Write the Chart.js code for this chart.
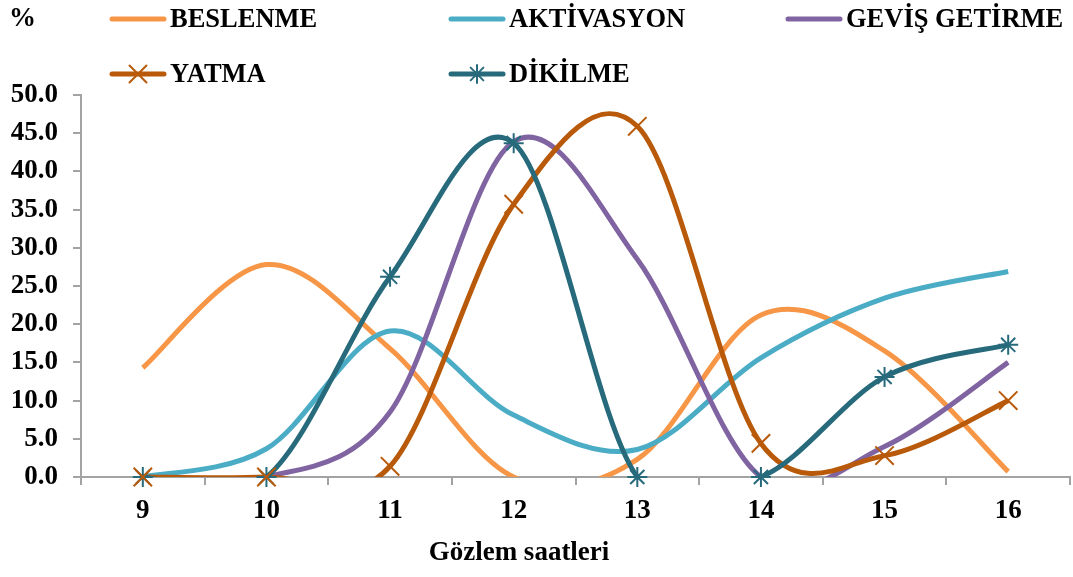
<!DOCTYPE html>
<html>
<head>
<meta charset="utf-8">
<script src="https://cdn.jsdelivr.net/npm/chart.js@4/dist/chart.umd.min.js"></script>
<style>
  html, body { margin: 0; padding: 0; background: #ffffff; }
  #c { display: block; }
</style>
</head>
<body>
<canvas id="c" width="1073" height="577"></canvas>
<script>
// Observation hours (x categories)
const hours = ['9', '10', '11', '12', '13', '14', '15', '16'];

// Share of animals (%) in each behaviour per hour
const beslenme     = [14.3, 27.8, 16.8, 0.0, 2.3, 21.2, 16.5, 0.7];
const aktivasyon   = [0.0, 3.7, 19.1, 8.1, 3.6, 15.6, 23.4, 26.9];
const gevisGetirme = [0.0, 0.0, 8.5, 43.9, 28.5, 0.0, 4.0, 15.0];
const yatma        = [0.0, 0.0, 1.4, 35.7, 45.9, 4.4, 2.8, 10.0];
const dikilme      = [0.0, 0.0, 26.2, 43.7, 0.0, 0.0, 13.1, 17.3];

const seriesNames  = ['BESLENME', 'AKTİVASYON', 'GEVİŞ GETİRME', 'YATMA', 'DİKİLME'];
const seriesData   = [beslenme, aktivasyon, gevisGetirme, yatma, dikilme];
const seriesColors = ['#F79646', '#4BACC6', '#8064A2', '#B85A0A', '#276A7C'];
const seriesMarker = [null, null, null, 'crossRot', 'star'];
const markerRadius = [0, 0, 0, 13, 10];

const yMin = 0, yMax = 50, yStep = 5;
const xTitle = 'Gözlem saatleri';
const yTitle = '%';

const FONT = '"Liberation Serif", "Times New Roman", serif';

// Lines: drawn first series at the bottom, last series on top
const datasets = [];
seriesNames.forEach((name, i) => {
  datasets.push({
    label: name,
    data: seriesData[i],
    borderColor: seriesColors[i],
    backgroundColor: seriesColors[i],
    borderWidth: 5,
    tension: 0.4,
    pointRadius: 0,
    pointHoverRadius: 0,
    fill: false,
    order: seriesNames.length - i + 1,
    isLine: true
  });
});
// Markers: separate point layers so they are not clipped at the axis
seriesNames.forEach((name, i) => {
  if (!seriesMarker[i]) return;
  datasets.push({
    label: name + ' markers',
    data: seriesData[i],
    showLine: false,
    pointStyle: seriesMarker[i],
    pointRadius: markerRadius[i],
    pointHoverRadius: markerRadius[i],
    pointBorderColor: seriesColors[i],
    pointBackgroundColor: seriesColors[i],
    pointBorderWidth: 2,
    clip: false,
    order: 0
  });
});

// Catmull-Rom style smoothing (control points at +-1/6 of neighbour span)
const smoothCurves = {
  id: 'smoothCurves',
  beforeDatasetDraw(chart, args) {
    const ds = chart.data.datasets[args.index];
    if (!ds.isLine) return;
    const meta = args.meta;
    const line = meta.dataset;
    line.updateControlPoints(chart.chartArea, 'x');
    const pts = meta.data;
    for (let k = 0; k < pts.length; k++) {
      const p = pts[k];
      const prev = pts[k - 1] || p;
      const next = pts[k + 1] || p;
      const dx = (next.x - prev.x) / 6;
      const dy = (next.y - prev.y) / 6;
      p.cp1x = p.x - dx; p.cp1y = p.y - dy;
      p.cp2x = p.x + dx; p.cp2y = p.y + dy;
    }
    line._path = undefined;
  }
};

// Legend grid, "%" label and x-axis title
const legendAndTitles = {
  id: 'legendAndTitles',
  afterDraw(chart) {
    const ctx = chart.ctx;
    ctx.save();
    ctx.fillStyle = '#000000';
    ctx.font = 'bold 27px ' + FONT;
    ctx.textBaseline = 'middle';
    ctx.textAlign = 'left';
    ctx.fillText(yTitle, 9, 19);

    const colX = [110, 449, 786];
    const rowY = [19, 74];
    const sample = 56;
    seriesNames.forEach((name, i) => {
      const x = colX[i % 3];
      const y = rowY[Math.floor(i / 3)];
      ctx.strokeStyle = seriesColors[i];
      ctx.lineWidth = 5;
      ctx.lineCap = 'round';
      ctx.beginPath();
      ctx.moveTo(x + 2, y);
      ctx.lineTo(x + sample - 2, y);
      ctx.stroke();
      if (seriesMarker[i]) {
        ctx.lineWidth = 2;
        ctx.strokeStyle = seriesColors[i];
        Chart.helpers.drawPoint(ctx, {
          pointStyle: seriesMarker[i],
          radius: markerRadius[i] - 1,
          rotation: 0,
          borderWidth: 2
        }, x + sample / 2, y);
      }
      ctx.fillStyle = '#000000';
      ctx.font = 'bold 26.5px ' + FONT;
      ctx.fillText(name, x + sample + 4, y + 1);
    });

    ctx.font = 'bold 27px ' + FONT;
    ctx.textAlign = 'center';
    ctx.fillText(xTitle, 519, 553);
    ctx.restore();
  }
};

const axisGray = '#A3A3A3';

new Chart(document.getElementById('c'), {
  type: 'line',
  data: { labels: hours, datasets: datasets },
  options: {
    responsive: false,
    animation: false,
    events: [],
    layout: { autoPadding: false, padding: { top: 95, right: 3, bottom: 0, left: 0 } },
    elements: { line: { capBezierPoints: false } },
    plugins: {
      legend: { display: false },
      tooltip: { enabled: false },
      title: { display: false }
    },
    scales: {
      x: {
        offset: true,
        grid: {
          offset: true,
          drawOnChartArea: false,
          drawTicks: true,
          tickLength: 8,
          color: axisGray,
          lineWidth: 2
        },
        border: { display: true, color: axisGray, width: 2 },
        ticks: {
          color: '#000000',
          font: { family: FONT, size: 27, weight: 'bold' },
          padding: 10,
          maxRotation: 0
        },
        afterFit(scale) {
          scale.height = 100;
          scale.paddingLeft = 0;
          scale.paddingRight = 0;
        }
      },
      y: {
        min: yMin,
        max: yMax,
        grid: {
          drawOnChartArea: false,
          drawTicks: true,
          tickLength: 8,
          color: axisGray,
          lineWidth: 2
        },
        border: { display: true, color: axisGray, width: 2 },
        ticks: {
          stepSize: yStep,
          color: '#000000',
          font: { family: FONT, size: 27, weight: 'bold' },
          padding: 15,
          callback: (v) => Number(v).toFixed(1)
        },
        afterFit(scale) { scale.width = 81; }
      }
    }
  },
  plugins: [smoothCurves, legendAndTitles]
});
</script>
</body>
</html>
